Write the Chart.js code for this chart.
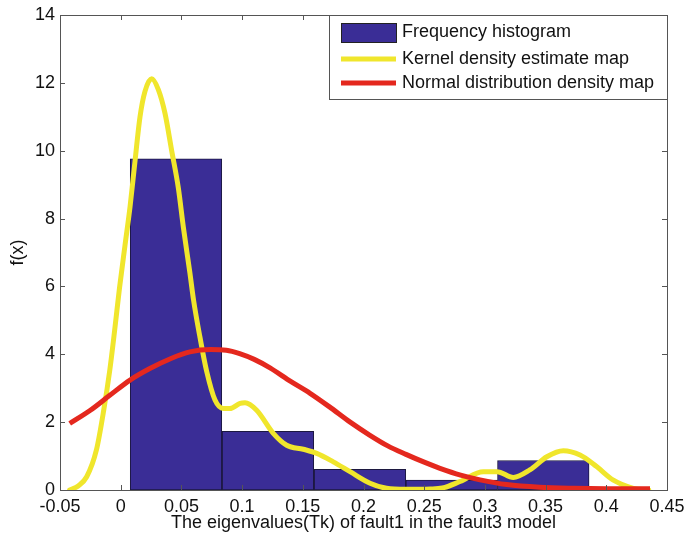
<!DOCTYPE html>
<html>
<head>
<meta charset="utf-8">
<script src="https://cdn.jsdelivr.net/npm/chart.js@4.4.0/dist/chart.umd.min.js"></script>
<style>
  body { margin: 0; background: #fff; }
  canvas { display: block; }
</style>
</head>
<body>
<canvas id="densityChart" width="688" height="542"></canvas>
<script>
// histogram bins (edges) and bar heights
const binEdges = [0.0077, 0.0834, 0.1592, 0.2350, 0.3104, 0.3858];
const binHeights = [9.76, 1.73, 0.61, 0.29, 0.87];

// kernel density estimate curve
const kdeX = [-0.042, -0.035, -0.028, -0.020, -0.014, -0.009, -0.005, -0.001, 0.0035, 0.0077,
  0.0118, 0.0159, 0.020, 0.0255, 0.031, 0.0365, 0.042, 0.0475, 0.0516, 0.057,
  0.060, 0.0653, 0.0708, 0.0777, 0.0845, 0.090, 0.0983, 0.1024, 0.112, 0.1257,
  0.1367, 0.1504, 0.1615, 0.1751, 0.1889, 0.2054, 0.219, 0.235, 0.255, 0.265,
  0.2795, 0.2987, 0.310, 0.3234, 0.337, 0.351, 0.3646, 0.3784, 0.392, 0.4058,
  0.4223, 0.435];
const kdeY = [0.0, 0.12, 0.39, 1.18, 2.35, 3.53, 4.70, 5.95, 7.20, 8.35,
  9.70, 11.00, 11.75, 12.12, 11.80, 11.10, 10.00, 8.90, 7.75, 6.40,
  5.60, 4.50, 3.50, 2.65, 2.40, 2.40, 2.55, 2.57, 2.35, 1.67,
  1.32, 1.20, 1.08, 0.83, 0.54, 0.20, 0.05, 0.02, 0.03, 0.06,
  0.25, 0.54, 0.54, 0.37, 0.59, 0.98, 1.16, 1.03, 0.69, 0.29,
  0.05, 0.0];

// normal distribution density curve
const normX = [-0.042, -0.025, -0.009, 0.0077, 0.024, 0.041, 0.057, 0.074, 0.087, 0.098,
  0.110, 0.123, 0.140, 0.156, 0.172, 0.189, 0.205, 0.220, 0.235, 0.250,
  0.263, 0.280, 0.296, 0.318, 0.345, 0.373, 0.400, 0.436];
const normY = [1.96, 2.35, 2.79, 3.24, 3.58, 3.87, 4.07, 4.14, 4.12, 4.02,
  3.85, 3.60, 3.20, 2.85, 2.45, 2.00, 1.62, 1.30, 1.05, 0.82,
  0.64, 0.44, 0.30, 0.16, 0.08, 0.05, 0.04, 0.04];

const xTicks = [-0.05, 0, 0.05, 0.1, 0.15, 0.2, 0.25, 0.3, 0.35, 0.4, 0.45];
const yTicks = [0, 2, 4, 6, 8, 10, 12, 14];

const seriesNames = [
  "Frequency histogram",
  "Kernel density estimate map",
  "Normal distribution density map",
];

const histPoints = binHeights.map((h, i) => ({
  x: (binEdges[i] + binEdges[i + 1]) / 2,
  y: h,
}));
const kdePoints = kdeX.map((x, i) => ({ x: x, y: kdeY[i] }));
const normPoints = normX.map((x, i) => ({ x: x, y: normY[i] }));

Chart.defaults.font.family = "'Liberation Sans', Arial, sans-serif";
Chart.defaults.font.size = 18;
Chart.defaults.color = "#111";

// MATLAB style box with inward ticks
const boxPlugin = {
  id: "boxPlugin",
  afterDatasetsDraw(chart) {
    const ctx = chart.ctx;
    const area = chart.chartArea;
    const tl = 5;
    ctx.save();
    ctx.strokeStyle = "#555";
    ctx.lineWidth = 1;
    ctx.strokeRect(area.left + 0.5, area.top + 0.5, area.right - area.left, area.bottom - area.top);
    ctx.beginPath();
    chart.scales.x.ticks.forEach((t) => {
      const px = Math.round(chart.scales.x.getPixelForValue(t.value)) + 0.5;
      ctx.moveTo(px, area.bottom);
      ctx.lineTo(px, area.bottom - tl);
      ctx.moveTo(px, area.top);
      ctx.lineTo(px, area.top + tl);
    });
    chart.scales.y.ticks.forEach((t) => {
      const py = Math.round(chart.scales.y.getPixelForValue(t.value)) + 0.5;
      ctx.moveTo(area.left, py);
      ctx.lineTo(area.left + tl, py);
      ctx.moveTo(area.right, py);
      ctx.lineTo(area.right - tl, py);
    });
    ctx.stroke();
    ctx.restore();
  },
};

// legend box in the upper right corner
const legendPlugin = {
  id: "legendPlugin",
  afterDraw(chart) {
    const ctx = chart.ctx;
    const area = chart.chartArea;
    const boxW = 338;
    const boxH = 84;
    const left = area.right - boxW;
    const top = area.top;
    const rows = [17.5, 44, 68];

    ctx.save();
    ctx.fillStyle = "#fff";
    ctx.fillRect(left, top, boxW, boxH);
    ctx.strokeStyle = "#555";
    ctx.lineWidth = 1;
    ctx.strokeRect(left + 0.5, top + 0.5, boxW, boxH);

    chart.data.datasets.forEach((ds, i) => {
      const cy = top + rows[i];
      if (ds.type === "bar") {
        ctx.fillStyle = ds.backgroundColor;
        ctx.fillRect(left + 12, cy - 9.5, 55, 19);
        ctx.strokeStyle = "#222";
        ctx.strokeRect(left + 12.5, cy - 9, 55, 19);
      } else {
        ctx.strokeStyle = ds.borderColor;
        ctx.lineWidth = 5;
        ctx.beginPath();
        ctx.moveTo(left + 12, cy);
        ctx.lineTo(left + 67, cy);
        ctx.stroke();
      }
      ctx.fillStyle = "#111";
      ctx.font = "18px 'Liberation Sans', Arial, sans-serif";
      ctx.textBaseline = "middle";
      ctx.textAlign = "left";
      ctx.fillText(ds.label, left + 73, cy);
    });
    ctx.restore();
  },
};

new Chart(document.getElementById("densityChart"), {
  type: "bar",
  data: {
    datasets: [
      {
        type: "bar",
        label: seriesNames[0],
        data: histPoints,
        xAxisID: "xb",
        backgroundColor: "#3A2D96",
        borderColor: "#1c1840",
        borderWidth: 1,
        borderSkipped: false,
        barPercentage: 1,
        categoryPercentage: 1,
        grouped: false,
        order: 2,
      },
      {
        type: "line",
        label: seriesNames[1],
        data: kdePoints,
        xAxisID: "x",
        borderColor: "#F0E62C",
        borderWidth: 5,
        pointRadius: 0,
        cubicInterpolationMode: "monotone",
        borderJoinStyle: "round",
        borderCapStyle: "round",
        fill: false,
        order: 1,
      },
      {
        type: "line",
        label: seriesNames[2],
        data: normPoints,
        xAxisID: "x",
        borderColor: "#E4281E",
        borderWidth: 5,
        pointRadius: 0,
        cubicInterpolationMode: "monotone",
        borderJoinStyle: "round",
        fill: false,
        order: 0,
      },
    ],
  },
  options: {
    responsive: false,
    animation: false,
    layout: {
      padding: { left: 0, top: 15, right: 21, bottom: 0 },
    },
    plugins: {
      legend: { display: false },
      tooltip: { enabled: false },
    },
    scales: {
      x: {
        type: "linear",
        position: "bottom",
        offset: false,
        min: -0.05,
        max: 0.45,
        afterBuildTicks: (scale) => {
          scale.ticks = xTicks.map((v) => ({ value: v }));
        },
        afterFit: (scale) => {
          scale.height = 52;
          scale.paddingLeft = 0;
          scale.paddingRight = 0;
        },
        grid: { display: false, drawTicks: false, offset: false },
        border: { display: false },
        ticks: {
          autoSkip: false,
          maxRotation: 0,
          padding: 6,
          callback: (v) => String(parseFloat(Number(v).toFixed(2))),
        },
        title: {
          display: true,
          text: "The eigenvalues(Tk) of fault1 in the fault3 model",
          padding: { top: 0, bottom: 8 },
        },
      },
      xb: {
        type: "linear",
        display: false,
        offset: false,
        min: -0.05,
        max: 0.45,
        grid: { offset: false },
        afterBuildTicks: (scale) => {
          scale.ticks = binEdges.map((v) => ({ value: v }));
        },
      },
      y: {
        type: "linear",
        min: 0,
        max: 14,
        afterBuildTicks: (scale) => {
          scale.ticks = yTicks.map((v) => ({ value: v }));
        },
        afterFit: (scale) => {
          scale.width = 60;
          scale.paddingTop = 0;
          scale.paddingBottom = 0;
        },
        grid: { display: false, drawTicks: false },
        border: { display: false },
        ticks: { padding: 5 },
        title: {
          display: true,
          text: "f(x)",
          padding: { top: 7, bottom: 4 },
        },
      },
    },
  },
  plugins: [boxPlugin, legendPlugin],
});
</script>
</body>
</html>
